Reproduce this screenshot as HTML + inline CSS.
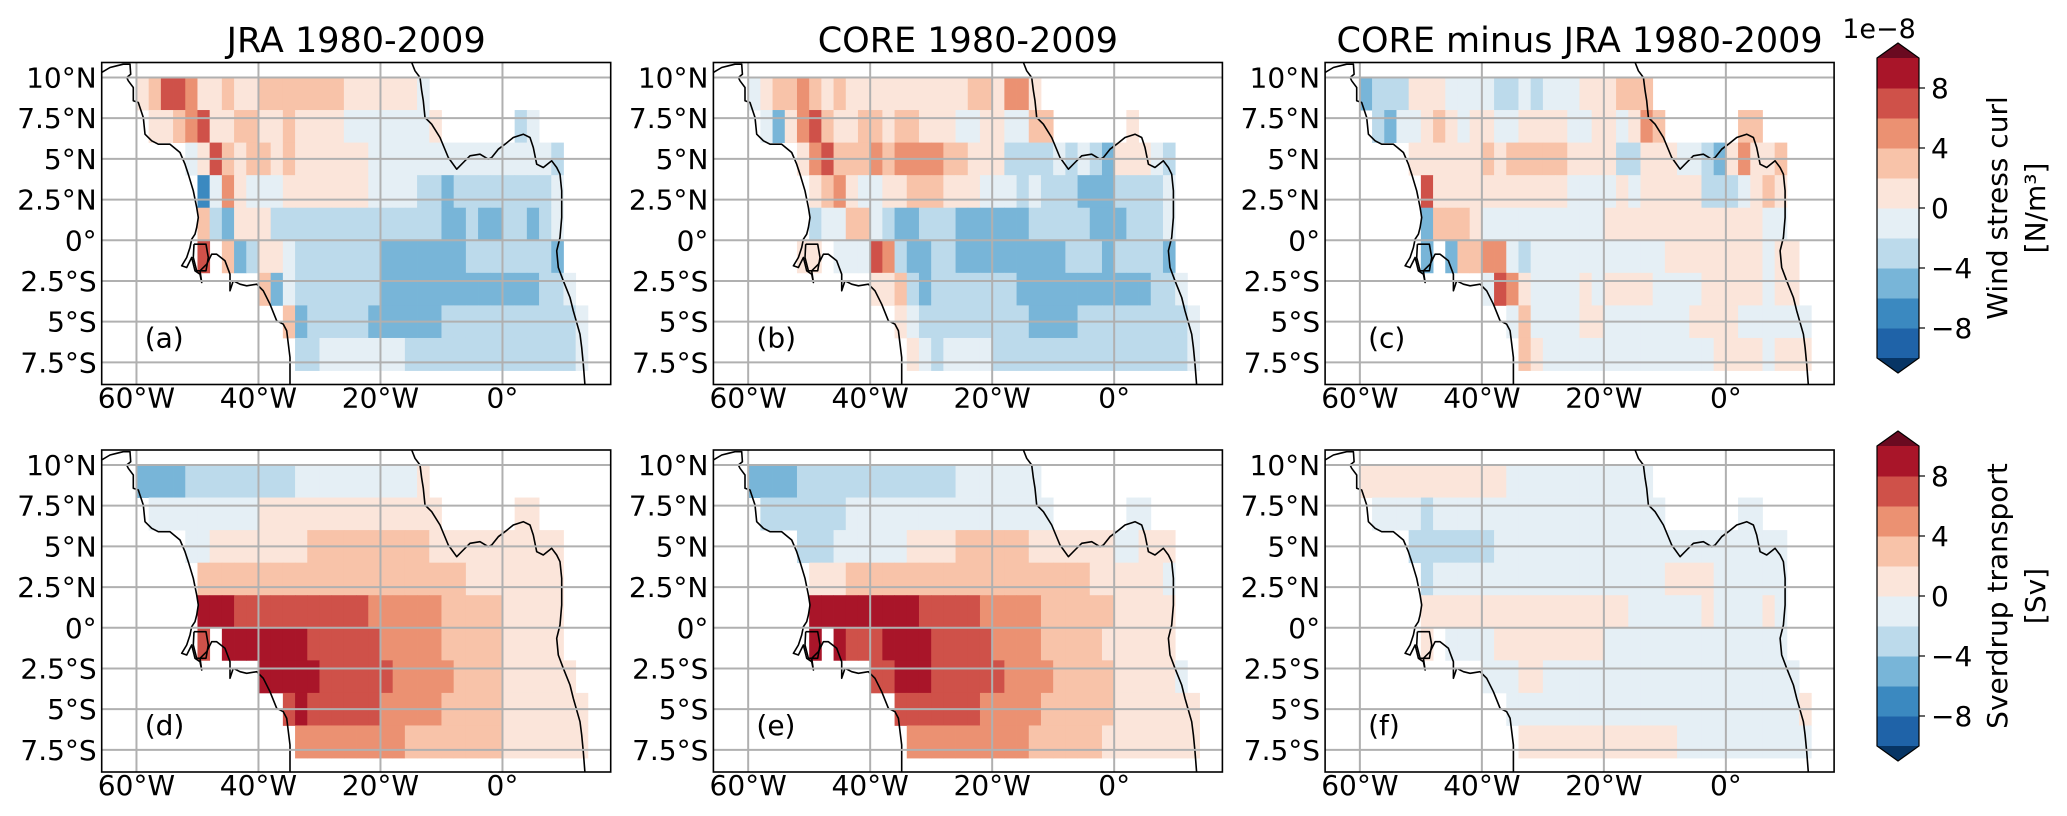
<!DOCTYPE html>
<html><head><meta charset="utf-8"><style>
html,body{margin:0;padding:0;background:#fff}
svg{display:block}
text{font-family:"DejaVu Sans","Liberation Sans",sans-serif;fill:#000}
</style></head><body>
<svg id="fig" width="2067" height="816" viewBox="0 0 2067 816" xmlns="http://www.w3.org/2000/svg"></svg>
<script>
// ---- data: 2x2 degree cells, lon -60..14 (37 cols), lat rows 10..-8 (9 rows) ----
// codes: A=-9 B=-7 C=-5 D=-3 E=-1 F=1 G=3 H=5 I=7 J=9 , '.' = no data
const codeKeys = ['A','B','C','D','E','F','G','H','I','J'];
const codeVals = [-9,-7,-5,-3,-1,1,3,5,7,9];
const lonStart = -60, cellDeg = 2, latTop = 10;
const levels = [-10,-8,-6,-4,-2,0,2,4,6,8,10];
const tickVals = [8,4,0,-4,-8];
const panelA = [
"FGIIHFFGFFGGGGGGGFFFFFFE.............",
".FFGHIFFGGFFGFFFFEEEEEEEF......DE....",
"....EFIGFGGFGFFFFFFEEEEEEEEEEEEEEED..",
".....BEHFEEEFFFFFFFEEEEDDCDDDDDDDDE..",
".....GDCFFFDDDDDDDDDDDDDDCCDCCDDCDE..",
".....I.GCDFFEDDDDDDDCCCCCCCDDDDDDDC..",
"..........GCEDDDDDDDCCCCCCCCCCCCCDDE.",
"............GCDDDDDCCCCCCDDDDDDDDDDDE",
".............DDEEEEEEEDDDDDDDDDDDDDDE"];
const panelB = [
"EFGGHGFGFFFFFFFFFFGGFHHF.............",
".ECFHIGFFGGFGGFFFEEFFEEGG......F.....",
"....FHIGGGHGHHHHGGFFFDDDDEDEDCFFFED..",
".....FGHFEEFFGGGFFFEEEDEDDDCCCDDDDE..",
".....DEEGGEDCCDDDCCCCCCDDDDDCCCDDDE..",
"....FF.EEEIHDCCDDCCCCCCCCCDDDCDDDDC..",
"..........FFGDCDDDDDDDCCCCCCCCCCCDDE.",
"............FEDDDDDDDDDCCCCDDDDDDDDDE",
".............FEDEEEEDDDDDDDDDDDDDDDDE"];
const panelC = [
"CDDDFFFEEEEDDEDEEEFFFGGG.............",
".DCEEFGFEFFEEFFFFEEFFEFHG......GG....",
"....FFFFFFGFGGGGGFFFFDDFFFEEDCFHFFG..",
".....IFFFFFFFFFFFEEEEFEFFFFFDDDEFGF..",
".....CGGGFEEEEEEEEEEFFFFFFFFFFFFFEE..",
".....C.CGGHHEDEEEEEEEEEEEFFFFFFFFEFF.",
"..........EIHFEEEEFEFFFFEEEEFFFFFEFF.",
"............EGEEEEFFEEEEEEEFFFFEEEEEE",
".............GFEEEEEEEEEEEEEEFFFFEFFF"];
const panelD = [
"CCCCDDDDDDDDDEEEEEEEEEEF.............",
".EEEEEEEEEFFFFFFFFFFFFFFF......FF....",
"....EEFFFFFFFFGGGGGGGGGGFFFFFFFFFFF..",
".....GGGGGGGGGGGGGGGGGGGGGGFFFFFFFF..",
".....JJJIIIIIIIIIIIHHHHHHGGGGGFFFFF..",
".....I.JJJJJJJIIIIIIHHHHHGGGGGFFFFF..",
"..........JJJJJIIIIIIHHHHHGGGGFFFFFF.",
"............IJIIIIIIHHHHHGGGGGFFFFFFF",
".............HHHHHHHHHGGGGGGGGFFFFFFF"];
const panelE = [
"CCCCDDDDDDDDDDDDDEEEEEEE.............",
".DDDDDDDEEEEEEEEEEEEEEEEE......EE....",
"....DDDEEEEEEFFFFGGGGGGFFFFFFFEEFFF..",
".....FFFGGGGGGGGGGGGGGGGGGGGFFFFFFE..",
".....JJJJJJJJJIIIIIHHHHHGGGGGGFFFFF..",
".....J.JIIIJJJJIIIIIHHHHGGGGGFFFFFF..",
"..........IIJJJIIIIIIHHHHGGGGGFFFFFE.",
"............IIIIIIIHHHHHGGGGGGFFFFFFF",
".............HHHHHHHHHHGGGGGGFFFFFFFF"];
const panelF = [
"FFFFFFFFFFFFEEEEEEEEEEEE.............",
".EEEEDEEEEEEEEEEEEEEEEEEE......EE....",
"....DDDDDDDEEEEEEEEEEEEEEEEEEEEEEEE..",
".....DEEEEEEEEEEEEEEEEEEEFFFFEEEEEE..",
".....FFFFFFFFFFFFFFFFFEEEEEEFEEEEFE..",
".....F.EEEEFFFFFFFFFEEEEEEEEEEEEEEE..",
"..........EEEFFEEEEEEEEEEEEEEEEEEEEE.",
"............EEEEEEEEEEEEEEEEEEEEEEEEF",
".............FFFFFFFFFFFFFEEEEEEEEEEE"];
const titles = ['JRA 1980-2009','CORE 1980-2009','CORE minus JRA 1980-2009'];
const tags = ['(a)','(b)','(c)','(d)','(e)','(f)'];
const lonTicks = [-60,-40,-20,0];
const lonTickLabels = ['60°W','40°W','20°W','0°'];
const latTicks = [10,7.5,5,2.5,0,-2.5,-5,-7.5];
const latTickLabels = ['10°N','7.5°N','5°N','2.5°N','0°','2.5°S','5°S','7.5°S'];

// ---- styling / geometry ----
const binColors = ['#1f63a8','#3b89c0','#78b5d8','#bcdaeb','#e5eff5','#fbe5da','#f8c3a9','#eb9172','#cf5149','#a91529'];
const underColor = '#073565', overColor = '#6a0a20';
const NS = 'http://www.w3.org/2000/svg';
const svg = document.getElementById('fig');
const PW = 509, PH = 322, lonMin = -65.7, latMax = 10.92, pxLon = 6.1, pxLat = 16.28;
const lefts = [101.7, 713.4, 1325.1], tops = [62.5, 450];
function mk(tag, attrs, parent){const e=document.createElementNS(NS,tag);for(const k in attrs)e.setAttribute(k,attrs[k]);(parent||svg).appendChild(e);return e;}
function colorOf(v){for(let b=0;b<10;b++){if(v>=levels[b]&&v<levels[b+1])return binColors[b];}return v<levels[0]?underColor:overColor;}
function valOf(ch){const k=codeKeys.indexOf(ch);return k<0?null:codeVals[k];}

const saCoast=[[5,45],[30,30],[50,25],[70,20],[90,20],[92,50],[80,60],[85,70],[100,90],[100,130],[115,135],[130,180],[135,230],[155,250],[175,260],[210,260],[240,285],[255,320],[265,350],[280,400],[290,450],[295,480],[290,510],[285,530],[275,545],[270,570],[260,600],[245,625],[260,630],[275,600],[285,640],[300,650],[305,675],[300,640],[320,620],[335,590],[350,590],[375,610],[390,650],[390,700],[400,670],[420,680],[440,685],[470,680],[490,700],[510,740],[530,790],[550,800],[560,820],[570,900],[570,985]];
const island=[[282,560],[318,560],[325,600],[318,640],[290,640],[280,600],[282,560]];
const afCoast=[[935,15],[945,40],[960,60],[965,100],[970,130],[975,180],[995,200],[1020,240],[1045,300],[1070,335],[1090,315],[1110,295],[1140,290],[1165,305],[1175,300],[1195,275],[1215,260],[1240,240],[1270,230],[1290,240],[1300,270],[1310,320],[1330,330],[1355,310],[1370,330],[1380,350],[1385,400],[1385,480],[1380,540],[1370,580],[1375,630],[1390,670],[1410,720],[1420,760],[1440,830],[1445,870],[1450,920],[1455,985]];
function coastPts(arr,L,T){return arr.map(p=>(L+p[0]/3-1.7).toFixed(1)+','+(T+p[1]/3-5).toFixed(1)).join(' ');}

const panels=[panelA,panelB,panelC,panelD,panelE,panelF];
const names=['jra-wind-curl','core-wind-curl','diff-wind-curl','jra-sverdrup','core-sverdrup','diff-sverdrup'];
panels.forEach((data,p)=>{
  const L=lefts[p%3], T=tops[Math.floor(p/3)];
  const g=mk('g',{});
  
  
  const clipId='clip'+p;
  const cp=mk('clipPath',{id:clipId},g); mk('rect',{x:L,y:T,width:PW,height:PH},cp);
  const inner=mk('g',{'clip-path':'url(#'+clipId+')'},g);
  const xOf=lon=>L+(lon-lonMin)*pxLon, yOf=lat=>T+(latMax-lat)*pxLat;
  data.forEach((row,j)=>{
    for(let i=0;i<row.length;i++){
      const v=valOf(row[i]); if(v===null) continue;
      const lon0=lonStart+i*cellDeg, lat0=latTop-j*cellDeg;
      const x0=xOf(lon0), x1=xOf(lon0+cellDeg), y0=yOf(lat0), y1=yOf(lat0-cellDeg);
      const r=mk('rect',{x:x0.toFixed(2),y:y0.toFixed(2),width:(x1-x0+0.4).toFixed(2),height:(y1-y0+0.4).toFixed(2),fill:colorOf(v)},inner);
      
      
    }
  });
  [saCoast,island,afCoast].forEach(c=>{
    const pl=mk('polyline',{points:coastPts(c,L,T),fill:'none',stroke:'#000','stroke-width':1.6,'stroke-linejoin':'round'},inner);
    
    
  });
  lonTicks.forEach((lon,k)=>{
    const x=xOf(lon);
    const gl=mk('line',{x1:x,y1:T,x2:x,y2:T+PH,stroke:'#b0b0b0','stroke-width':2},inner);
    
    
    const t=mk('text',{x:x,y:T+PH+23,'font-size':28,'text-anchor':'middle'},g);
    t.textContent=lonTickLabels[k];
    
    
  });
  latTicks.forEach((lat,k)=>{
    const y=yOf(lat);
    const gl=mk('line',{x1:L,y1:y,x2:L+PW,y2:y,stroke:'#b0b0b0','stroke-width':2},inner);
    
    
    const t=mk('text',{x:L-5,y:y+10,'font-size':28,'text-anchor':'end'},g);
    t.textContent=latTickLabels[k];
    
    
  });
  const fr=mk('rect',{x:L,y:T,width:PW,height:PH,fill:'none',stroke:'#000','stroke-width':1.6},g);
  
  
  const tg=mk('text',{x:L+43,y:T+285,'font-size':28},g);
  tg.textContent=tags[p];
  
  
  if(p<3){
    const tt=mk('text',{x:L+PW/2,y:52,'font-size':35,'text-anchor':'middle'},g);
    tt.textContent=titles[p];
    
    
  }
});

const cbLabels=[['Wind stress curl','[N/m³]'],['Sverdrup transport','[Sv]']];
[58,446].forEach((top,r)=>{
  const g=mk('g',{});
  
  
  const cx0=1877, cx1=1919, H=300, step=H/(levels.length-1);
  for(let b=0;b<10;b++){
    const y=top+H-(b+1)*step;
    const rr=mk('rect',{x:cx0,y:y.toFixed(1),width:cx1-cx0,height:(step+0.5).toFixed(1),fill:binColors[b]},g);
    
    
  }
  mk('polygon',{points:`${cx0},${top} ${cx1},${top} ${(cx0+cx1)/2},${top-15}`,fill:overColor},g);
  mk('polygon',{points:`${cx0},${top+H} ${cx1},${top+H} ${(cx0+cx1)/2},${top+H+15}`,fill:underColor},g);
  mk('polygon',{points:`${cx0},${top} ${(cx0+cx1)/2},${top-15} ${cx1},${top} ${cx1},${top+H} ${(cx0+cx1)/2},${top+H+15} ${cx0},${top+H}`,fill:'none',stroke:'#000','stroke-width':1.2},g);
  tickVals.forEach(v=>{
    const y=top+(10-v)*H/20;
    mk('line',{x1:cx1,y1:y,x2:cx1+6,y2:y,stroke:'#000','stroke-width':1.2},g);
    const t=mk('text',{x:cx1+12,y:y+10,'font-size':28},g);
    t.textContent=v<0?'−'+Math.abs(v):String(v);
    
    
  });
  const cy=top+150;
  const l1=mk('text',{x:0,y:0,'font-size':28,'text-anchor':'middle',transform:`translate(2007,${cy}) rotate(-90)`},g);
  l1.textContent=cbLabels[r][0];
  
  
  const l2=mk('text',{x:0,y:0,'font-size':28,'text-anchor':'middle',transform:`translate(2045,${cy}) rotate(-90)`},g);
  l2.textContent=cbLabels[r][1];
  
  
  if(r===0){
    const e=mk('text',{x:1879,y:38,'font-size':27,'text-anchor':'middle'},g);
    e.textContent='1e−8';
    
    
  }
});
</script>
</body></html>
